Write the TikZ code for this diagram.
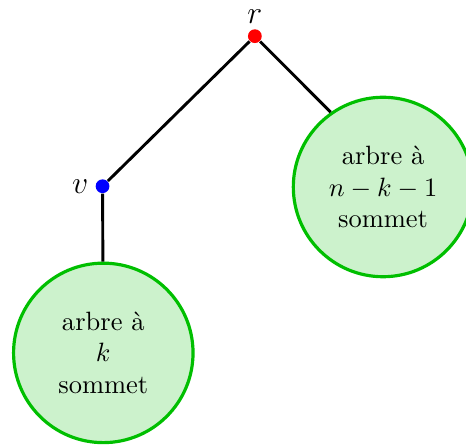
\documentclass[tikz,border=0pt]{standalone}
\usepackage{fontspec}
\usepackage{tikz}
\usetikzlibrary{positioning}

\tikzset{
    sommet/.style={circle, fill, inner sep=0pt, minimum size=5.2pt},
    sousarbre/.style={circle, draw=green!75!black, fill=green!75!black!20, very thick, minimum size=2.38cm, align=center, inner sep=0pt},
    every label/.style={font=\large, black}
}

\begin{document}
\begin{tikzpicture}
    \useasboundingbox (-3.38, -5.42) rectangle (2.80, 0.48);
    \node[sommet, red, label={[label distance=-1.5pt]above:$r$}] (r) at (0, 0) {};
    \node[sommet, blue, label={[label distance=-1pt]left:$v$}] (v) at (-2.02, -1.99) {};
    \node[sousarbre] (gauche) at (-2.01, -4.2) {arbre à\\$k$\\sommet};
    \node[sousarbre] (droite) at (1.70, -2.0) {arbre à\\$n-k-1$\\sommet};
    \draw[line width=1.1pt]
    (r) -- (v)
    (r) -- (droite.125)
    (v) -- (gauche);
\end{tikzpicture}
\end{document}
